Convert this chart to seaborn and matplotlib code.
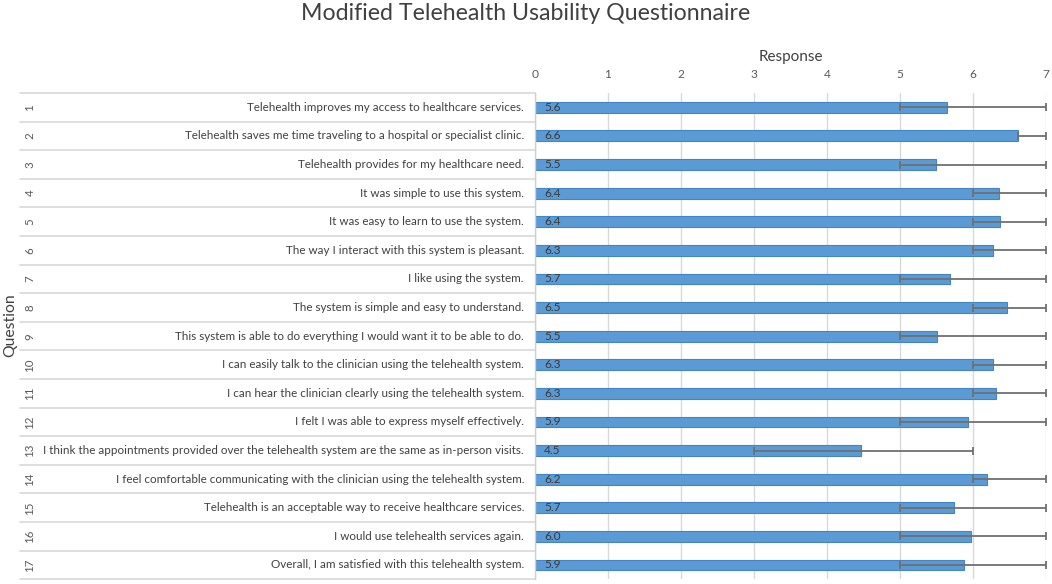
import matplotlib
matplotlib.use("Agg")
import matplotlib.pyplot as plt
import matplotlib.transforms as mtransforms
import numpy as np
import pandas as pd
import seaborn as sns

# ---- data ----
question_numbers = [str(i) for i in range(1, 18)]
questions = [
    "Telehealth improves my access to healthcare services.",
    "Telehealth saves me time traveling to a hospital or specialist clinic.",
    "Telehealth provides for my healthcare need.",
    "It was simple to use this system.",
    "It was easy to learn to use the system.",
    "The way I interact with this system is pleasant.",
    "I like using the system.",
    "The system is simple and easy to understand.",
    "This system is able to do everything I would want it to be able to do.",
    "I can easily talk to the clinician using the telehealth system.",
    "I can hear the clinician clearly using the telehealth system.",
    "I felt I was able to express myself effectively.",
    "I think the appointments provided over the telehealth system are the same as in-person visits.",
    "I feel comfortable communicating with the clinician using the telehealth system.",
    "Telehealth is an acceptable way to receive healthcare services.",
    "I would use telehealth services again.",
    "Overall, I am satisfied with this telehealth system.",
]
mean_response = [5.64, 6.62, 5.49, 6.36, 6.37, 6.28, 5.68, 6.46, 5.51,
                 6.27, 6.31, 5.93, 4.46, 6.19, 5.74, 5.97, 5.87]
range_low = [5, 6.62, 5, 6, 6, 6, 5, 6, 5, 6, 6, 5, 3, 6, 5, 5, 5]
range_high = [7, 7, 7, 7, 7, 7, 7, 7, 7, 7, 7, 7, 6, 7, 7, 7, 7]
x_ticks = [0, 1, 2, 3, 4, 5, 6, 7]

df = pd.DataFrame({"question": questions, "mean": mean_response,
                   "low": range_low, "high": range_high,
                   "num": question_numbers})

# ---- style ----
sns.set_style("white")
plt.rcParams["font.family"] = ["Lato", "DejaVu Sans"]

W, H = 1052, 584
fig = plt.figure(figsize=(W / 100, H / 100), dpi=100)
ax_left, ax_right, ax_top, ax_bot = 535, 1046, 93, 579.3
ax = fig.add_axes([ax_left / W, 1 - ax_bot / H,
                   (ax_right - ax_left) / W, (ax_bot - ax_top) / H])

bar_color = "#5B9BD5"
sns.barplot(data=df, x="mean", y="question", orient="h", color=bar_color,
            width=0.38, edgecolor="#4583c4", linewidth=0.8, saturation=1,
            ax=ax)

ypos = np.arange(len(df))
xerr = [df["mean"] - df["low"], df["high"] - df["mean"]]
ax.errorbar(df["mean"], ypos, xerr=xerr, fmt="none", ecolor="#707070",
            elinewidth=1.3, capsize=2.6, capthick=1.3, zorder=4)

# value labels inside bars
for y, v in zip(ypos, df["mean"]):
    ax.annotate(f"{v:.1f}", xy=(0, y), xytext=(6.5, 0), textcoords="offset points",
                va="center", ha="left", fontsize=8.6, color="#3a3a3a", zorder=5)

ax.set_xlim(0, 7)
ax.set_ylim(len(df) - 0.5, -0.5)
ax.set_xticks(x_ticks)
ax.xaxis.tick_top()
ax.xaxis.set_label_position("top")
ax.tick_params(axis="x", length=0, pad=9, labelsize=8.6, labelcolor="#595959")
ax.set_xlabel("Response", fontsize=11, color="#404040", labelpad=6)
ax.set_ylabel("")
ax.set_yticks([])
ax.grid(axis="x", color="#d9d9d9", linewidth=1)
ax.set_axisbelow(True)
for s in ["top", "right", "bottom"]:
    ax.spines[s].set_visible(False)
ax.spines["left"].set_color("#d0d0d0")
ax.spines["left"].set_linewidth(1)

# ---- left table ----
trans = mtransforms.blended_transform_factory(fig.transFigure, ax.transData)
for b in np.arange(-0.5, len(df), 1.0):
    ax.plot([20 / W, ax_left / W], [b, b], transform=trans, color="#d9d9d9",
            lw=1.2, clip_on=False, zorder=1)
for y, q, n in zip(ypos, df["question"], df["num"]):
    ax.text(524 / W, y, q, transform=trans, ha="right", va="center",
            fontsize=8.35, color="#404040", clip_on=False)
    ax.text(30 / W, y, n, transform=trans, ha="center", va="center",
            rotation=90, fontsize=8.3, color="#595959", clip_on=False)

fig.text(10 / W, 1 - 325 / H, "Question", rotation=90, ha="center", va="center",
         fontsize=11.3, color="#404040")
fig.text(0.5, 1 - 13 / H, "Modified Telehealth Usability Questionnaire",
         ha="center", va="center", fontsize=16.7, color="#404040")

fig.savefig("out.png", dpi=100)
